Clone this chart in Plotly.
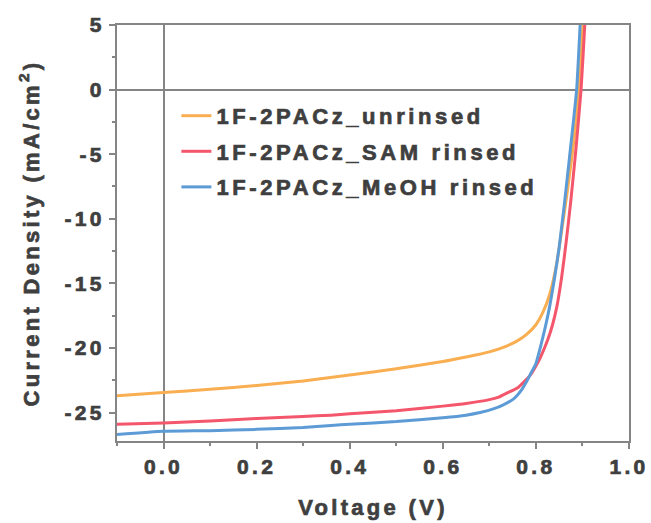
import plotly.graph_objects as go

# J-V sweeps (voltage in V, current density in mA/cm^2)
v_unrinsed = [-0.1, 0.0, 0.1, 0.2, 0.3, 0.4, 0.5, 0.6, 0.65, 0.7, 0.73, 0.76, 0.78,
              0.8, 0.815, 0.83, 0.845, 0.855, 0.867, 0.878, 0.886, 0.892, 0.897, 0.901, 0.903]
j_unrinsed = [-23.7, -23.45, -23.2, -22.9, -22.55, -22.1, -21.6, -21.05, -20.7, -20.3, -19.95,
              -19.45, -18.95, -18.2, -17.25, -15.8, -13.4, -11.0, -8.0, -5.0, -2.5, 0.0, 2.5, 5.0, 6.5]

v_sam = [-0.1, 0.0, 0.1, 0.2, 0.3, 0.36, 0.4, 0.5, 0.6, 0.65, 0.7, 0.72, 0.74, 0.76, 0.775,
         0.79, 0.8, 0.81, 0.825, 0.835, 0.845, 0.855, 0.865, 0.875, 0.886, 0.897, 0.905, 0.908]
j_sam = [-25.9, -25.8, -25.65, -25.45, -25.3, -25.2, -25.1, -24.85, -24.5, -24.3, -24.0, -23.8,
         -23.45, -23.1, -22.6, -22.0, -21.4, -20.7, -19.4, -18.3, -16.8, -14.6, -11.8, -8.6,
         -4.6, 0.0, 5.0, 7.0]

v_meoh = [-0.1, 0.0, 0.1, 0.2, 0.3, 0.36, 0.4, 0.5, 0.6, 0.65, 0.68, 0.71, 0.73, 0.75, 0.76,
          0.77, 0.78, 0.79, 0.8, 0.81, 0.82, 0.83, 0.84, 0.85, 0.861, 0.872, 0.8875, 0.895, 0.898]
j_meoh = [-26.7, -26.45, -26.4, -26.3, -26.15, -26.0, -25.9, -25.7, -25.4, -25.2, -25.0, -24.7,
          -24.4, -24.0, -23.65, -23.2, -22.6, -21.9, -21.2, -19.9, -18.4, -16.7, -14.6, -12.2,
          -8.9, -5.3, 0.0, 5.0, 7.0]

series_names = ["1F-2PACz_unrinsed", "1F-2PACz_SAM rinsed", "1F-2PACz_MeOH rinsed"]
series_colors = ["#F9AE52", "#F4566C", "#5C9BD6"]

x_ticks = [0.0, 0.2, 0.4, 0.6, 0.8, 1.0]
x_tick_labels = ["0.0", "0.2", "0.4", "0.6", "0.8", "1.0"]
y_ticks = [5, 0, -5, -10, -15, -20, -25]
y_tick_labels = ["5", "0", "-5", "-10", "-15", "-20", "-25"]


def bold(s):
    return "<b>" + s + "</b>"


FONT = "Liberation Sans"
TEXT = "#3F3F3F"
AXIS = "#858585"

fig = go.Figure()
for name, color, vx, jy in zip(series_names, series_colors,
                               [v_unrinsed, v_sam, v_meoh],
                               [j_unrinsed, j_sam, j_meoh]):
    fig.add_trace(go.Scatter(
        x=vx, y=jy, mode="lines", name=bold(name), legendgroup=name,
        line=dict(color=color, width=3, shape="spline", smoothing=0.5),
    ))

axis_common = dict(
    showgrid=False, showline=True, linecolor=AXIS, linewidth=2, mirror=True,
    ticks="outside", tickcolor=AXIS, tickwidth=2, ticklen=6,
    zeroline=True, zerolinecolor=AXIS, zerolinewidth=2, automargin=False,
    tickfont=dict(family=FONT, size=21, color=TEXT),
)

fig.update_layout(
    template="none",
    width=651, height=523,
    margin=dict(l=117, r=22, t=25, b=82),
    paper_bgcolor="white", plot_bgcolor="white",
    font=dict(family=FONT, color=TEXT),
    showlegend=True,
    legend=dict(
        x=0.116, y=0.832, xanchor="left", yanchor="top",
        bgcolor="rgba(0,0,0,0)", borderwidth=0,
        traceorder="grouped", tracegroupgap=4,
        font=dict(family=FONT, size=22, color=TEXT),
    ),
    xaxis=dict(
        range=[-0.1, 1.0], tickvals=x_ticks, ticktext=[bold(t) for t in x_tick_labels],
        minor=dict(dtick=0.1, tick0=0, ticks="outside", ticklen=3, tickwidth=2, tickcolor=AXIS),
        title=dict(text=bold("Voltage (V)"), standoff=22,
                   font=dict(family=FONT, size=22, color=TEXT)),
        **axis_common,
    ),
    yaxis=dict(
        range=[-27.2, 5], tickvals=y_ticks, ticktext=[bold(t) for t in y_tick_labels],
        minor=dict(dtick=2.5, tick0=0, ticks="outside", ticklen=3, tickwidth=2, tickcolor=AXIS),
        title=dict(text=bold("Current Density (mA/cm<sup>2</sup>)"), standoff=29,
                   font=dict(family=FONT, size=22, color=TEXT)),
        **axis_common,
    ),
)

# heavier, wider-spaced lettering on every text label; legend entries may run past their box
lettering_js = """
var gd = document.getElementById('{plot_id}');
gd.querySelectorAll('text').forEach(function(t){
    t.style.letterSpacing = '3.3px';
    t.style.stroke = '#3F3F3F';
    t.style.strokeWidth = '0.7px';
});
gd.querySelectorAll('.legend text').forEach(function(t){ t.style.letterSpacing = '3.6px'; });
gd.querySelectorAll('.legend [clip-path]').forEach(function(e){ e.removeAttribute('clip-path'); });
"""

fig.write_html("out.html", post_script=lettering_js)
